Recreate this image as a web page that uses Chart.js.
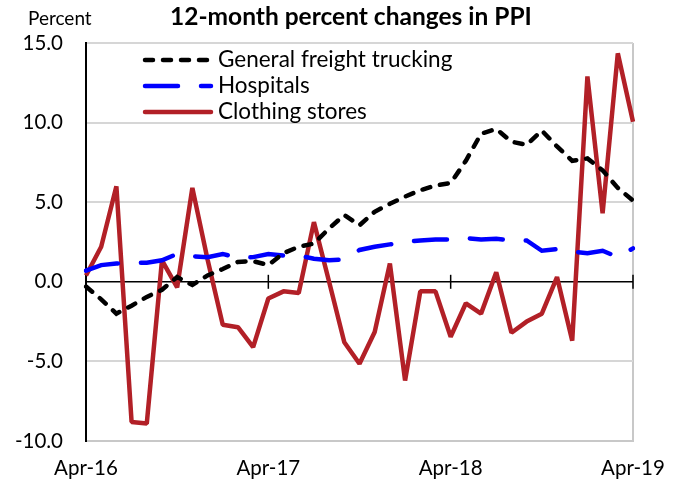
<!DOCTYPE html>
<html lang="en">
<head>
  <meta charset="UTF-8" />
  <title>12-month percent changes in PPI</title>
  <script src="https://cdn.jsdelivr.net/npm/chart.js"></script>
  <style>
    html, body { margin: 0; padding: 0; background: #fff; }
  </style>
</head>
<body>
  <canvas id="ppiChart" width="682" height="482"></canvas>

  <script>
    // Monthly 12-month % changes, Apr-16 .. Apr-19
    const months = [
      "Apr-16", "May-16", "Jun-16", "Jul-16", "Aug-16", "Sep-16", "Oct-16", "Nov-16", "Dec-16",
      "Jan-17", "Feb-17", "Mar-17", "Apr-17", "May-17", "Jun-17", "Jul-17", "Aug-17", "Sep-17",
      "Oct-17", "Nov-17", "Dec-17", "Jan-18", "Feb-18", "Mar-18", "Apr-18", "May-18", "Jun-18",
      "Jul-18", "Aug-18", "Sep-18", "Oct-18", "Nov-18", "Dec-18", "Jan-19", "Feb-19", "Mar-19",
      "Apr-19"
    ];
    const trucking = [
      -0.3, -1.1, -2.0, -1.5, -0.95, -0.5, 0.3, -0.2, 0.4, 0.8, 1.25, 1.3, 1.05,
      1.8, 2.2, 2.4, 3.35, 4.2, 3.55, 4.4, 4.9, 5.35, 5.75, 6.05, 6.2, 7.6,
      9.3, 9.6, 8.8, 8.6, 9.5, 8.5, 7.6, 7.75, 7.0, 5.9, 5.1
    ];
    const hospitals = [
      0.7, 1.05, 1.15, 1.2, 1.2, 1.35, 1.75, 1.6, 1.55, 1.75, 1.5, 1.55, 1.75,
      1.65, 1.65, 1.45, 1.35, 1.4, 2.0, 2.2, 2.35, 2.5, 2.6, 2.65, 2.65, 2.75,
      2.65, 2.7, 2.6, 2.6, 1.95, 2.05, 1.9, 1.8, 1.95, 1.55, 2.1
    ];
    const clothing = [
      0.4, 2.2, 6.0, -8.8, -8.9, 1.35, -0.35, 5.9, 1.4, -2.7, -2.85, -4.1, -1.05,
      -0.6, -0.7, 3.75, 0.0, -3.8, -5.15, -3.15, 1.15, -6.2, -0.6, -0.6, -3.45, -1.35,
      -2.0, 0.6, -3.2, -2.5, -2.0, 0.3, -3.7, 12.9, 4.3, 14.35, 10.05
    ];
    const yTicks = [-10, -5, 0, 5, 10, 15];

    const FONT = "Lato, 'Liberation Sans', sans-serif";

    // pick a font size so a string comes out at a given pixel width
    const measureCtx = document.createElement("canvas").getContext("2d");
    function fitSize(text, width, weight) {
      measureCtx.font = (weight || "normal") + " 100px " + FONT;
      return Math.round(100 * width / measureCtx.measureText(text).width * 2) / 2;
    }
    const titleSize = fitSize("12-month percent changes in PPI", 362, "bold");
    const unitSize = fitSize("Percent", 64);
    const legendSize = fitSize("General freight trucking", 234);
    const tickSize = fitSize("Apr-16", 64);

    // title, "Percent" label, hand-drawn legend and zero-line tick marks
    const decorations = {
      id: "decorations",
      afterDatasetsDraw(chart) {
        const ctx = chart.ctx;
        const x = chart.scales.x;
        const y = chart.scales.y;
        ctx.save();

        // small ticks on the zero line at each April
        const y0 = y.getPixelForValue(0);
        ctx.strokeStyle = "#000";
        ctx.lineWidth = 1.5;
        [12, 24, 36].forEach(i => {
          const px = x.getPixelForValue(i);
          ctx.beginPath();
          ctx.moveTo(px, y0 - 7);
          ctx.lineTo(px, y0 + 7);
          ctx.stroke();
        });

        ctx.fillStyle = "#000";
        ctx.textBaseline = "middle";
        ctx.textAlign = "left";
        ctx.font = "bold " + titleSize + "px " + FONT;
        ctx.fillText("12-month percent changes in PPI", 170, 17);

        ctx.font = unitSize + "px " + FONT;
        ctx.fillText("Percent", 28, 19);

        // legend
        const rows = [60, 86, 112];
        chart.data.datasets.forEach((ds, i) => {
          const ry = rows[i];
          ctx.save();
          ctx.strokeStyle = ds.borderColor;
          ctx.lineWidth = ds.borderWidth;
          ctx.lineCap = "round";
          ctx.setLineDash(ds.borderDash || []);
          ctx.beginPath();
          ctx.moveTo(145, ry);
          ctx.lineTo(211, ry);
          ctx.stroke();
          ctx.restore();
          ctx.font = legendSize + "px " + FONT;
          ctx.fillStyle = "#000";
          ctx.fillText(ds.label, 218, ry);
        });
        ctx.restore();
      }
    };

    new Chart(document.getElementById("ppiChart"), {
      type: "line",
      data: {
        labels: months,
        datasets: [
          {
            label: "General freight trucking",
            data: trucking,
            borderColor: "#000000",
            borderWidth: 4.5,
            borderDash: [8, 10],
            borderCapStyle: "round"
          },
          {
            label: "Hospitals",
            data: hospitals,
            borderColor: "#0000ff",
            borderWidth: 4.5,
            borderDash: [33, 23],
            borderCapStyle: "round"
          },
          {
            label: "Clothing stores",
            data: clothing,
            borderColor: "#b22027",
            borderWidth: 4.5,
            borderJoinStyle: "bevel"
          }
        ]
      },
      options: {
        responsive: false,
        animation: false,
        layout: { padding: { top: 43, right: 49, left: 0, bottom: 0 } },
        elements: {
          point: { radius: 0, hoverRadius: 0 },
          line: { tension: 0 }
        },
        plugins: {
          legend: { display: false },
          title: { display: false },
          tooltip: { enabled: false }
        },
        scales: {
          x: {
            offset: false,
            afterFit: s => { s.height = 41; },
            border: { display: true, color: "#c8c8c8", width: 2 },
            grid: {
              drawTicks: false,
              lineWidth: 2,
              color: c => (c.index === months.length - 1 ? "#c8c8c8" : "rgba(0,0,0,0)")
            },
            ticks: {
              autoSkip: false,
              maxRotation: 0,
              padding: 15,
              color: "#000",
              font: { family: FONT, size: tickSize },
              callback: (v, i) => (i % 12 === 0 ? months[i] : "")
            }
          },
          y: {
            min: yTicks[0],
            max: yTicks[yTicks.length - 1],
            afterFit: s => { s.width = 86; },
            afterBuildTicks: s => { s.ticks = yTicks.map(v => ({ value: v })); },
            border: { display: true, color: "#000", width: 2 },
            grid: {
              drawTicks: false,
              lineWidth: c => (c.tick && c.tick.value === 0 ? 1.5 : 2),
              color: c => (c.tick && c.tick.value === 0 ? "#000" : "#d6d6d6")
            },
            ticks: {
              padding: 23,
              color: "#000",
              font: { family: FONT, size: tickSize },
              callback: v => v.toFixed(1)
            }
          }
        }
      },
      plugins: [decorations]
    });
  </script>
</body>
</html>
